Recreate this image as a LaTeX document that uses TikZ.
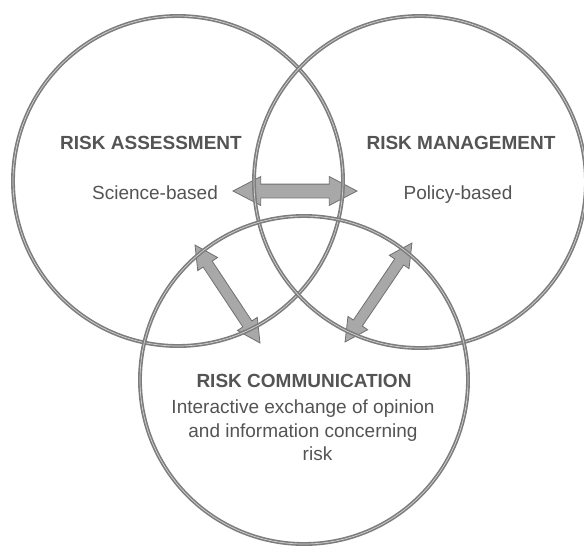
\documentclass[tikz,border=0pt]{standalone}
\usepackage{fontspec}
\setmainfont{Liberation Sans}
\usetikzlibrary{calc,positioning,shapes.arrows}
\definecolor{ringGray}{RGB}{125,125,125}
\definecolor{ringLight}{RGB}{210,210,210}
\definecolor{labelGray}{RGB}{84,84,84}
\definecolor{arrowEdge}{RGB}{112,112,112}
\definecolor{arrowFill}{RGB}{168,168,168}

\tikzset{
  ring/.style={circle,draw=ringGray,line width=1.6pt,double=ringLight,double distance=.7pt,inner sep=0pt,minimum size=#1},
  headline/.style={text=labelGray,font=\fontsize{19}{22}\selectfont\bfseries,inner sep=0pt},
  subline/.style={text=labelGray,font=\fontsize{19}{23.5}\selectfont,inner sep=0pt,align=center},
  linkarrow/.style 2 args={double arrow,draw=arrowEdge,line width=.8pt,fill=arrowFill,
    inner xsep=0pt,inner ysep=#1,minimum width=0pt,double arrow tip angle=55,double arrow head extend=#2}
}
\newcommand{\linkarrow}[4]{%
  \path let \p1=($(#2)-(#1)$), \n1={atan2(\y1,\x1)}, \n2={veclen(\x1,\y1)} in
    node[#3,rotate=\n1,minimum height=\n2] (#4) at ($(#1)!.5!(#2)$) {};}

\begin{document}
\begin{tikzpicture}[x=1pt,y=-1pt]
\useasboundingbox[fill=white] (0,0) rectangle (584,547);

% arrow end points
\coordinate (hArrowL) at (233,191);
\coordinate (hArrowR) at (357,191);
\coordinate (lArrowT) at (195,245);
\coordinate (lArrowB) at (260,343);
\coordinate (rArrowB) at (345,342);
\coordinate (rArrowT) at (412,243);

\linkarrow{hArrowL}{hArrowR}{linkarrow={6.5pt}{7.5pt}}{sciPolicy}
\linkarrow{lArrowT}{lArrowB}{linkarrow={5pt}{6.5pt}}{assessComm}
\linkarrow{rArrowB}{rArrowT}{linkarrow={5pt}{6.5pt}}{manageComm}

% the three rings
\node[ring=330pt] (assessRing) at (178,181) {};
\node[ring=332pt] (manageRing) at (420,182) {};
\node[ring=328pt] (commRing) at (304,380) {};

% labels
\node[headline] (assessTitle) at (151,143) {RISK ASSESSMENT};
\node[subline,below=36pt of assessTitle,xshift=4pt] (assessNote) {Science-based};
\node[headline] (manageTitle) at (461,143) {RISK MANAGEMENT};
\node[subline,below=36pt of manageTitle,xshift=-3pt] (manageNote) {Policy-based};
\node[headline] (commTitle) at (304,381) {RISK COMMUNICATION};
\node[subline,below=12pt of commTitle,xshift=-1pt] (commText) {Interactive exchange of opinion\\and information concerning\\\hspace*{29pt}risk};
\end{tikzpicture}
\end{document}
